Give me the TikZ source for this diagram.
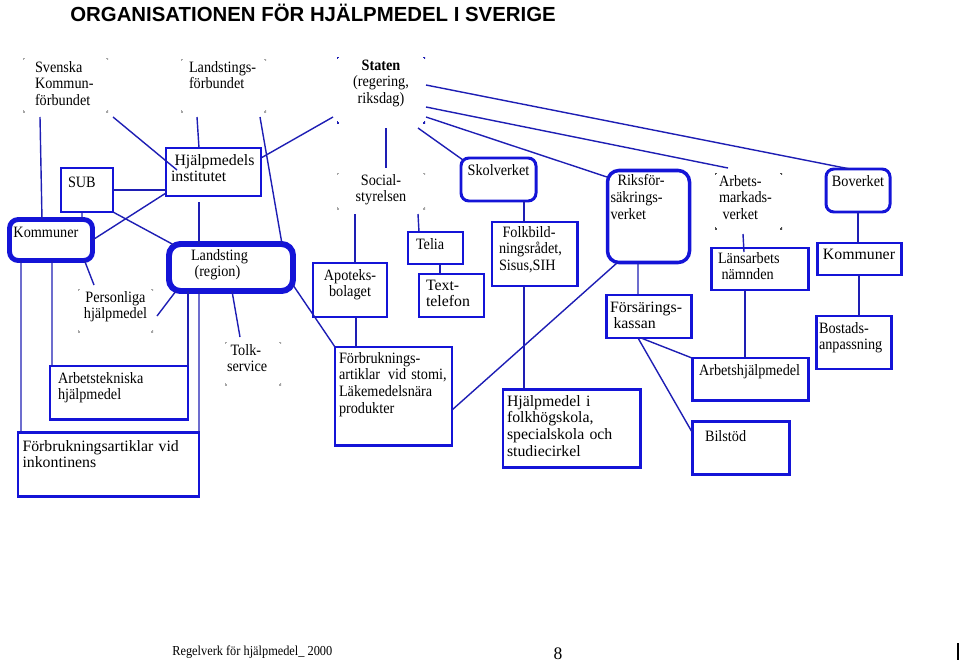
\documentclass[tikz,border=0pt]{standalone}
\usepackage{fontspec}
\setmainfont{Liberation Serif}[FakeStretch=0.9]
\newfontfamily\wfont{Liberation Serif}
\newfontfamily\titlefont{Liberation Sans}
\usetikzlibrary{calc}
\definecolor{boxblue}{RGB}{20,20,215}
\definecolor{lineblue}{RGB}{30,30,180}
\hyphenpenalty=10000
\exhyphenpenalty=10000
\begin{document}
\begin{tikzpicture}[x=0.02cm,y=-0.02cm,
  txt/.style={font=\fontsize{9}{9.6}\selectfont,align=left,anchor=north west,inner ysep=3*\px,outer sep=0pt},
  wide/.style={font=\wfont\fontsize{9}{9.6}\selectfont},
  sized/.style n args={4}{inner xsep=#3*\px,text width={(#1-2*#3)*\px},text height={(#4-3)*\px},text depth={(#2-#4-3)*\px}},
  box/.style={txt,draw=boxblue,line width=1.7pt},
  rbox/.style={box,rounded corners=4.5pt},
  ghost/.style={txt,outer sep=5*\px,path picture={
    \foreach \c/\dx/\dy in {north west/1/-1,north east/-1/-1,south west/1/1,south east/-1/1}
      \draw[#1,line width=1pt] ([xshift=\dx*1.1pt]path picture bounding box.\c) -- (path picture bounding box.\c) -- ([yshift=\dy*1.1pt]path picture bounding box.\c);}},
  ghost/.default=black!35,
  conn/.style={draw=lineblue,line width=0.8pt}]
   \newdimen\px
   \px=0.02cm
   \useasboundingbox (0,0) rectangle (960,663);
   \node[anchor=base west,inner sep=0pt,font=\titlefont\bfseries\fontsize{11.6}{13}\selectfont] (title) at (70,21) {ORGANISATIONEN FÖR HJÄLPMEDEL I SVERIGE};
   % bodies without frame
   \node[ghost,sized={85}{54}{12}{14}] (svk) at (18,53) {Svenska\\Kommun-\\förbundet};
   \node[ghost,sized={85}{53}{8}{13}] (lf) at (176,54) {Landstings-\\förbundet};
   \node[ghost=lineblue,sized={88}{66}{4}{13},align=center] (staten) at (332,52) {\textbf{Staten}\\(regering,\\riksdag)};
   \node[ghost,sized={88}{36}{4}{12},align=center] (soc) at (332,168) {Social-\\styrelsen};
   \node[ghost,sized={75}{43}{4}{13},align=center] (pers) at (73,284) {Personliga\\hjälpmedel};
   \node[ghost,sized={56}{43}{2}{13}] (tolk) at (220,337) {\hspace*{2pt}Tolk-\\service};
   \node[ghost=black!70,sized={67}{56}{4}{13}] (arbm) at (710,168) {Arbets-\\markads-\\\hspace*{2pt}verket};
   % framed bodies
   \node[box,sized={52}{44}{7}{19}] (sub) at (61,168) {SUB};
   \node[box,wide,sized={95}{48}{5}{17}] (hi) at (166,148) {\hspace*{2pt}Hjälpmedels\\institutet};
   \node[rbox,line width=2.8pt,rounded corners=5pt,sized={83}{41}{4}{18}] (koml) at (9.5,219.5) {Kommuner};
   \node[rbox,line width=3.4pt,rounded corners=6.5pt,sized={124}{47}{22}{16}] (land) at (169,244) {Landsting\\\hspace*{2pt}(region)};
   \node[box,sized={138}{53}{8}{17}] (arbt) at (50,366) {Arbetstekniska\\hjälpmedel};
   \node[box,wide,sized={181}{64}{4.5}{19}] (fbi) at (18,432) {Förbrukningsartiklar~vid\\inkontinens};
   \node[box,sized={74}{54}{4}{17},align=center] (apo) at (313,263) {Apoteks-\\bolaget};
   \node[box,sized={55}{32}{8}{17}] (telia) at (408,232) {Telia};
   \node[box,wide,sized={65}{43}{7}{16}] (ttel) at (419,274) {Text-\\telefon};
   \node[box,sized={117}{98}{4}{16}] (fbs) at (335,347) {Förbruknings-\\artiklar~\,vid~stomi,\\Läkemedelsnära\\produkter};
   \node[rbox,sized={75}{43}{4}{17},align=center] (skol) at (461,158) {Skolverket};
   \node[box,sized={85}{64}{7}{15}] (folk) at (492,222) {\hspace*{2pt}Folkbild-\\ningsrådet,\\Sisus,SIH};
   \node[box,wide,sized={137}{78}{4}{17}] (hjf) at (503,389) {Hjälpmedel~i\\folkhögskola,\\specialskola~och\\studiecirkel};
   \node[rbox,line width=2pt,rounded corners=6.5pt,sized={82}{92}{3}{15}] (riks) at (607.5,170.5) {\hspace*{4pt}Riksför-\\säkrings-\\verket};
   \node[box,wide,sized={85}{43}{4}{17}] (fors) at (606,295) {Försärings-\\\hspace*{2pt}kassan};
   \node[box,sized={97}{42}{7}{15}] (lans) at (711,248) {Länsarbets\\\hspace*{2pt}nämnden};
   \node[rbox,sized={64}{43}{4}{17},align=center] (bov) at (826,169) {Boverket};
   \node[box,wide,sized={84}{32}{4}{16},align=center] (komr) at (817,243) {Kommuner};
   \node[box,sized={75}{53}{3}{17}] (bost) at (816,316) {Bostads-\\anpassning};
   \node[box,sized={116}{42}{7}{17}] (arbh) at (692,358) {Arbetshjälpmedel};
   \node[box,sized={97}{53}{13}{20}] (bil) at (692,421) {Bilstöd};
   % from the top row
   \draw[conn] ($(svk.south west)+(22,0)$) -- ($(koml.north west)+(32.5,0)$);
   \draw[conn] (svk.south east) -- ($(hi.north west)+(11,22)$);
   \draw[conn] ($(lf.south west)+(21,0)$) -- ($(hi.north west)+(33,0)$);
   \draw[conn] ($(lf.south east)+(-11,0)$) -- ($(land.north east)+(-11,0)$);
   \draw[conn] ($(staten.south west)+(1,-11)$) -- ($(hi.north east)+(0,10)$);
   \draw[conn] ($(staten.south)+(5,0)$) -- ($(soc.north)+(5,0)$);
   \draw[conn] ($(staten.south east)+(-12,0)$) -- ($(skol.north west)+(2,2)$);
   \draw[conn] ($(staten.south east)+(-4,-11)$) -- ($(riks.north west)+(1,7)$);
   \draw[conn] ($(staten.south east)+(-4,-21)$) -- ($(arbm.north west)+(18,0)$);
   \draw[conn] ($(staten.south east)+(-4,-43)$) -- ($(bov.north west)+(24,0)$);
   % left part
   \draw[conn] ($(sub.south west)+(21,0)$) -- ($(koml.north west)+(72.5,0)$);
   \draw[conn] (sub.east) -- (sub.east -| hi.west);
   \draw[conn] (koml.east) -- ($(hi.south west)+(0,-3)$);
   \draw[conn] (sub.south east) -- ($(land.north west)+(5,1)$);
   \draw[conn] ($(hi.south west)+(33,6)$) -- ($(land.north west)+(30,0)$);
   \draw[conn] ($(koml.south west)+(11.5,0)$) -- ($(fbi.north west)+(3,0)$);
   \draw[conn] ($(koml.south west)+(42.5,0)$) -- ($(arbt.north west)+(2,0)$);
   \draw[conn] ($(koml.south west)+(75,0)$) -- ($(pers.north west)+(21,1)$);
   \draw[conn] ($(land.south west)+(7,0)$) -- ($(pers.north east)+(-1,32)$);
   \draw[conn] ($(land.south west)+(19,0)$) -- (arbt.north east);
   \draw[conn] ($(land.south west)+(30,0)$) -- (fbi.north east);
   \draw[conn] ($(land.south west)+(63,0)$) -- ($(tolk.north west)+(20,0)$);
   \draw[conn] ($(land.south east)+(0,-6)$) -- (fbs.north west);
   % middle part
   \draw[conn] ($(soc.south west)+(23,0)$) -- ($(apo.north west)+(42,0)$);
   \draw[conn] ($(soc.south east)+(-12,0)$) -- ($(telia.north west)+(11,0)$);
   \draw[conn] ($(telia.south west)+(32,0)$) -- ($(ttel.north west)+(21,0)$);
   \draw[conn] ($(apo.south west)+(43,0)$) -- ($(fbs.north west)+(21,0)$);
   \draw[conn] ($(riks.south west)+(10,0)$) -- ($(fbs.north east)+(0,63)$);
   \draw[conn] ($(skol.south west)+(63,0)$) -- ($(folk.north west)+(32,0)$);
   \draw[conn] ($(folk.south west)+(32,0)$) -- ($(hjf.north west)+(21,0)$);
   % right part
   \draw[conn] ($(riks.south west)+(30.5,0)$) -- ($(fors.north west)+(32,0)$);
   \draw[conn] ($(fors.south west)+(35,0)$) -- (arbh.north west);
   \draw[conn] ($(fors.south west)+(32,0)$) -- ($(bil.north west)+(0,11)$);
   \draw[conn] ($(arbm.south west)+(33,0)$) -- ($(lans.north west)+(33,4)$);
   \draw[conn] ($(lans.south west)+(34,0)$) -- ($(arbh.north west)+(53,0)$);
   \draw[conn] (bov.south) -- (bov.south |- komr.north);
   \draw[conn] (komr.south) -- (komr.south |- bost.north);
   % page foot
   \node[anchor=base west,inner sep=0pt,font=\fontsize{7.8}{9}\selectfont] (foot) at (172,655) {Regelverk för hjälpmedel\_ 2000};
   \node[anchor=base,inner sep=0pt,font=\wfont\fontsize{10}{12}\selectfont] (page) at (558,659.5) {8};
   \draw[line width=0.6pt] (958,643) -- (958,660);
\end{tikzpicture}
\end{document}
